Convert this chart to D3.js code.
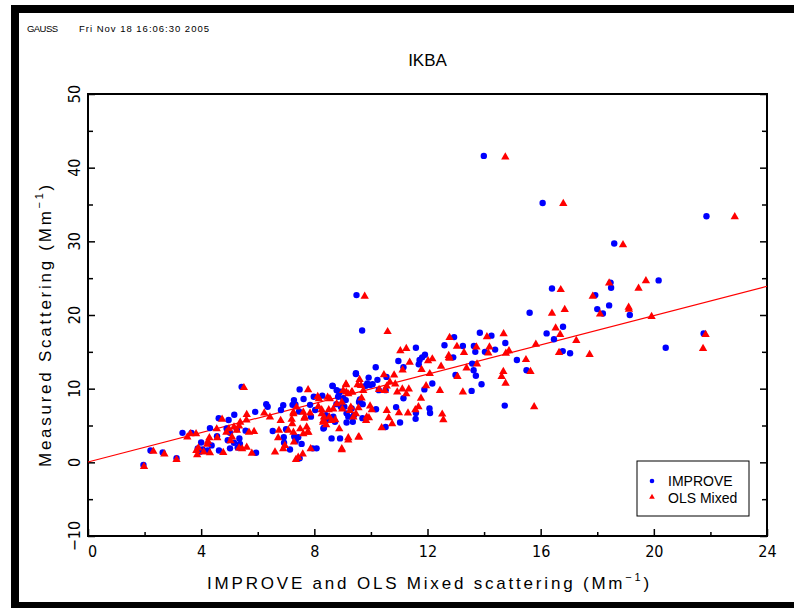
<!DOCTYPE html>
<html><head><meta charset="utf-8">
<script src="https://cdn.jsdelivr.net/npm/d3@7"></script>
<style>
body{margin:0;background:#fff;}
svg{display:block;}
text{font-family:"Liberation Sans Narrow","DejaVu Sans Condensed","Arial Narrow","Liberation Sans",Arial,sans-serif;}
.reg{font-family:"Liberation Sans",Arial,sans-serif;}
</style></head>
<body><svg id="c" width="794" height="608"></svg>
<script>
// ---- data ----
const xTicks = [0,4,8,12,16,20,24];
const xMinorTicks = [2,6,10,14,18,22];
const yTicks = [-10,0,10,20,30,40,50];
const yMinorTicks = [-5,5,15,25,35,45];
const fitLine = [[0,0.05],[24,23.9]];
const improve = [
[13.99,41.6],[16.07,35.2],[21.86,33.4],[18.6,29.7],[20.17,24.7],[16.4,23.6],[18.47,24.4],[18.49,23.7],[17.93,22.7],[15.61,20.3],[18.0,20.8],[18.2,20.2],[18.42,21.3],[19.15,20.0],[16.79,18.4],[16.21,17.5],[16.47,16.7],[21.76,17.5],[20.42,15.55],[13.85,17.6],[14.26,17.2],[14.75,16.2],[12.94,17.0],[12.6,15.9],[13.25,15.8],[13.64,15.8],[13.69,15.0],[14.03,15.0],[14.39,15.3],[16.78,15.1],[17.04,14.8],[12.91,14.25],[15.16,13.9],
[15.5,12.5],[14.73,7.7],[9.49,22.7],[9.69,17.9],
[11.59,15.55],[10.97,13.75],[11.72,13.9],[11.91,14.6],[11.81,14.25],[11.69,13.3],[11.15,12.9],[13.58,13.4],[13.63,12.5],[13.71,11.75],[13.91,10.6],[13.56,9.7],[12.99,11.85],[12.17,10.7],[11.89,9.9],[10.17,12.9],[9.47,12.1],[9.92,11.5],[9.87,10.7],[9.82,10.4],[9.97,10.5],[10.06,10.6],[10.23,11.2],[10.55,11.6],[10.28,9.8],[10.52,9.8],[11.15,8.7],[10.89,7.5],[10.18,7.2],[11.59,6.7],[12.07,7.3],[12.09,6.7],[11.58,5.9],[11.03,5.4],[10.52,4.8],[8.91,3.25],[8.61,3.25],[8.65,10.35],[8.79,9.8],[8.91,9.6],[8.84,8.9],[9.02,8.7],[9.06,7.55],[8.94,7.5],[8.78,7.9],[9.58,8.2],[9.61,8.55],[9.71,7.9],[9.32,7.3],[9.2,6.2],[9.36,5.5],[9.14,5.4],[9.7,6.0],[8.42,6.3],[8.52,5.85],[8.32,4.6],[8.03,7.1],[7.62,8.6],[7.48,9.9],[8.28,9.05],[7.98,8.9],[7.88,6.2],[7.28,8.45],[7.23,7.8],[7.29,3.5],[7.34,3.25],[7.55,2.5],[8.08,1.9],
[5.43,10.25],[1.96,-0.35],[2.21,1.6],[2.64,1.35],[3.13,0.55],[3.34,4.0],[3.66,4.0],[4.0,2.7],[4.05,1.75],[3.96,1.45],[3.88,1.9],[4.31,4.65],[4.62,6.0],[4.56,3.55],[4.23,1.6],[4.37,2.3],[4.63,1.6],[4.97,5.75],[5.17,6.45],[4.9,4.6],[5.02,4.0],[4.94,3.0],[5.26,4.5],[5.35,3.25],[5.37,2.5],[5.29,2.0],[5.02,1.9],[5.57,4.3],[5.91,6.85],[5.94,1.3],[5.16,2.65],[6.3,7.9],[6.35,7.55],[6.53,4.25],[6.9,7.75],[6.82,7.1],[7.0,4.5],[7.34,2.9],[7.43,3.4],[6.92,3.4],[6.93,2.65],[7.14,1.75],[7.33,7.85],[7.46,6.9],[7.85,7.8],[7.94,1.9],[7.48,0.55],[8.41,6.4],[8.48,5.75],[8.67,6.2],[8.73,5.5],[8.64,10.4],[8.88,9.45],[8.34,4.7],[9.11,8.45],[9.14,6.65],[9.4,6.4],[9.47,12.0]
];
const olsMixed = [
[14.75,41.5],[16.8,35.2],[22.86,33.4],[18.91,29.6],[19.72,24.7],[16.71,23.5],[18.42,24.4],[19.46,23.7],[17.84,22.6],[16.4,20.3],[16.85,20.8],[18.1,20.2],[19.11,21.1],[19.12,20.85],[19.92,19.85],[16.53,18.3],[16.69,17.4],[17.26,16.6],[21.83,17.4],[21.74,15.5],[15.83,16.1],[14.1,17.1],[14.69,17.5],[12.78,17.0],[13.04,15.8],[13.73,15.7],[14.19,15.7],[13.29,14.97],[14.15,14.9],[14.88,15.2],[14.77,14.87],[16.65,14.97],[17.73,14.7],[12.76,14.3],[15.48,14.0],
[14.68,12.4],[14.62,11.7],[15.64,12.4],[14.76,10.8],[15.77,7.6],[9.78,22.6],[10.59,17.8],
[11.25,15.5],[11.04,15.2],[11.37,13.65],[12.02,13.85],[12.17,14.1],[11.12,12.6],[12.48,13.1],[12.78,14.2],[12.75,14.55],[13.38,12.85],[13.75,13.4],[13.06,11.7],[13.25,9.6],[12.44,9.8],[11.95,10.45],[11.77,8.75],[11.79,12.65],[12.08,12.1],[12.52,6.6],[12.56,5.85],[11.68,7.6],[11.57,7.2],[11.31,6.75],[11.25,9.35],[11.34,10.0],[11.11,10.0],[10.93,9.6],[10.86,10.7],[10.82,11.9],[10.46,11.95],[10.67,10.95],[10.56,10.4],[10.49,9.8],[10.29,9.95],[9.6,11.3],[9.65,10.5],[9.73,9.8],[9.53,10.6],[9.12,10.7],[9.13,9.6],[9.32,9.6],[8.97,8.2],[8.47,8.9],[8.55,8.7],[8.16,8.7],[8.12,9.0],[7.78,9.9],[8.51,7.2],[8.99,7.3],[9.29,7.55],[9.56,7.45],[9.67,8.8],[9.97,7.7],[10.03,7.2],[9.85,6.2],[9.93,6.1],[9.83,5.75],[10.63,6.1],[10.75,5.3],[10.38,4.75],[10.99,6.8],[10.56,7.1],[9.47,6.65],[9.38,6.2],[9.26,7.1],[8.74,5.85],[8.88,4.6],[8.6,5.75],[8.26,7.2],[8.14,7.65],[8.31,5.5],[8.34,6.2],[7.85,6.75],[7.66,6.2],[7.26,6.65],[7.2,5.9],[7.61,6.85],[7.5,4.6],[7.61,3.95],[7.79,4.15],[7.26,4.15],[9.2,3.1],[9.58,3.5],[8.97,1.9],[7.87,1.9],[8.42,5.15],
[5.51,10.2],[1.98,-0.5],[2.31,1.55],[2.7,1.2],[3.13,0.45],[3.51,3.5],[3.62,3.95],[3.82,3.95],[3.83,1.65],[3.86,1.1],[3.9,2.0],[4.09,1.45],[4.24,2.9],[4.29,3.4],[4.21,2.5],[4.31,1.35],[4.74,5.9],[4.55,4.6],[4.57,3.4],[4.78,1.4],[4.89,4.15],[4.98,4.6],[5.04,3.0],[5.09,3.5],[5.16,4.85],[5.34,5.0],[5.38,5.5],[5.26,4.4],[5.45,1.9],[5.61,2.1],[5.69,4.15],[5.6,5.8],[5.61,6.55],[5.34,2.0],[5.87,4.25],[5.79,1.3],[6.23,6.75],[6.43,6.2],[6.61,1.45],[6.72,3.4],[6.75,4.4],[6.81,5.75],[7.08,4.4],[7.22,5.3],[7.26,6.85],[7.37,7.55],[6.96,2.35],[6.9,1.9],[7.28,2.8],[7.35,0.45],[7.43,0.75],[7.59,1.2],[7.65,6.05],[7.73,4.85],[7.76,4.15],[8.26,6.65],[8.32,5.75],[8.53,6.2],[8.67,7.3],[8.79,8.0],[9.02,9.8],[9.2,9.35],[9.34,9.6],[9.12,10.6],[9.2,3.4],[9.56,3.5],[8.97,1.75]
];

// ---- drawing ----
const svg = d3.select("#c");
const X0=88, X1=767, Y0=94, Y1=536;
const x = d3.scaleLinear().domain([0,24]).range([X0,X1]);
const y = d3.scaleLinear().domain([-10,50]).range([Y1,Y0]);

svg.append("rect").attr("width",794).attr("height",608).attr("fill","#fff");
// page frame
svg.append("rect").attr("x",11).attr("y",5).attr("width",783).attr("height",8).attr("fill","#000");
svg.append("rect").attr("x",11).attr("y",5).attr("width",8).attr("height",603).attr("fill","#000");
svg.append("rect").attr("x",11).attr("y",602).attr("width",783).attr("height",6).attr("fill","#000");

svg.append("text").attr("class","reg").attr("x",27).attr("y",32).attr("font-size",9.5)
  .attr("textLength",31).attr("lengthAdjust","spacing").text("GAUSS");
svg.append("text").attr("class","reg").attr("x",79).attr("y",32).attr("font-size",9.5)
  .attr("textLength",130).attr("lengthAdjust","spacing").text("Fri Nov 18 16:06:30 2005");

svg.append("text").attr("class","reg").attr("x",(X0+X1)/2).attr("y",66).attr("text-anchor","middle").attr("font-size",17).text("IKBA");

// axes ticks
function ax(gen, tx, ty){
  const g = svg.append("g").attr("transform",`translate(${tx},${ty})`).call(gen);
  g.select(".domain").remove();
  g.selectAll("line").attr("stroke","#000").attr("stroke-width",1.5);
  return g;
}
ax(d3.axisBottom(x).tickValues(xMinorTicks).tickSizeInner(-4).tickFormat(""),0,Y1);
const gx = ax(d3.axisBottom(x).tickValues(xTicks).tickSizeInner(-7).tickSizeOuter(0).tickPadding(10),0,Y1);
gx.selectAll("text").attr("font-size",16).attr("fill","#000")
  .attr("dx",d=>d===0?4:0);
ax(d3.axisLeft(y).tickValues(yMinorTicks).tickSizeInner(-5).tickFormat(""),X0,0);
ax(d3.axisLeft(y).tickValues(yTicks).tickSizeInner(-7).tickFormat(""),X0,0);
ax(d3.axisRight(y).tickValues(yMinorTicks).tickSizeInner(-5).tickFormat(""),X1,0);
ax(d3.axisRight(y).tickValues(yTicks).tickSizeInner(-7).tickFormat(""),X1,0);
svg.append("g").selectAll("text").data(yTicks).join("text")
  .attr("transform",d=>`translate(80,${y(d)}) rotate(-90)`)
  .attr("text-anchor","middle").attr("font-size",16)
  .text(d=>d<0?"\u2212"+Math.abs(d):d);

// plot frame
svg.append("rect").attr("x",X0).attr("y",Y0).attr("width",X1-X0).attr("height",Y1-Y0)
  .attr("fill","none").attr("stroke","#000").attr("stroke-width",2);

// fit line
svg.append("line").attr("x1",x(fitLine[0][0])).attr("y1",y(fitLine[0][1]))
  .attr("x2",x(fitLine[1][0])).attr("y2",y(fitLine[1][1]))
  .attr("stroke","#ff0000").attr("stroke-width",1.2);

// points
svg.append("g").selectAll("circle").data(improve).join("circle")
  .attr("cx",d=>x(d[0])).attr("cy",d=>y(d[1])).attr("r",3.2).attr("fill","#0000ff");
const tri = d3.symbol().type(d3.symbolTriangle).size(30);
svg.append("g").selectAll("path").data(olsMixed).join("path")
  .attr("d",tri).attr("transform",d=>`translate(${x(d[0])},${y(d[1])+0.5})`).attr("fill","#ff0000");

// axis titles (stretched to the reference's span)
function fitSpan(t, target){
  const n = t.text().length;
  const w = t.node().getComputedTextLength ? t.node().getBBox().width : 0;
  const s = (target - w)/(n);
  t.attr("letter-spacing", s.toFixed(2));
}
const xt = svg.append("text").attr("class","reg").attr("font-size",17).attr("text-anchor","middle")
  .attr("transform",`translate(${(205+650)/2+2},589)`);
xt.append("tspan").text("IMPROVE and OLS Mixed scattering (Mm");
xt.append("tspan").attr("dy",-8).attr("font-size",11).text("\u22121");
xt.append("tspan").attr("dy",8).text(")");
fitSpan(xt, 445);

const yt = svg.append("text").attr("class","reg").attr("font-size",17).attr("text-anchor","middle")
  .attr("transform",`translate(51,${(180+465)/2+2}) rotate(-90)`);
yt.append("tspan").text("Measured Scattering (Mm");
yt.append("tspan").attr("dy",-8).attr("font-size",11).text("\u22121");
yt.append("tspan").attr("dy",8).text(")");
fitSpan(yt, 285);

// legend
svg.append("rect").attr("x",637).attr("y",461).attr("width",112).attr("height",55)
  .attr("fill","#fff").attr("stroke","#000").attr("stroke-width",1);
svg.append("circle").attr("cx",652).attr("cy",481).attr("r",2.3).attr("fill","#0000ff");
svg.append("path").attr("d",d3.symbol().type(d3.symbolTriangle).size(14)).attr("transform","translate(652,497)").attr("fill","#ff0000");
svg.append("text").attr("class","reg").attr("x",668).attr("y",486).attr("font-size",14).text("IMPROVE");
svg.append("text").attr("class","reg").attr("x",668).attr("y",503).attr("font-size",14).text("OLS Mixed");
</script></body></html>
